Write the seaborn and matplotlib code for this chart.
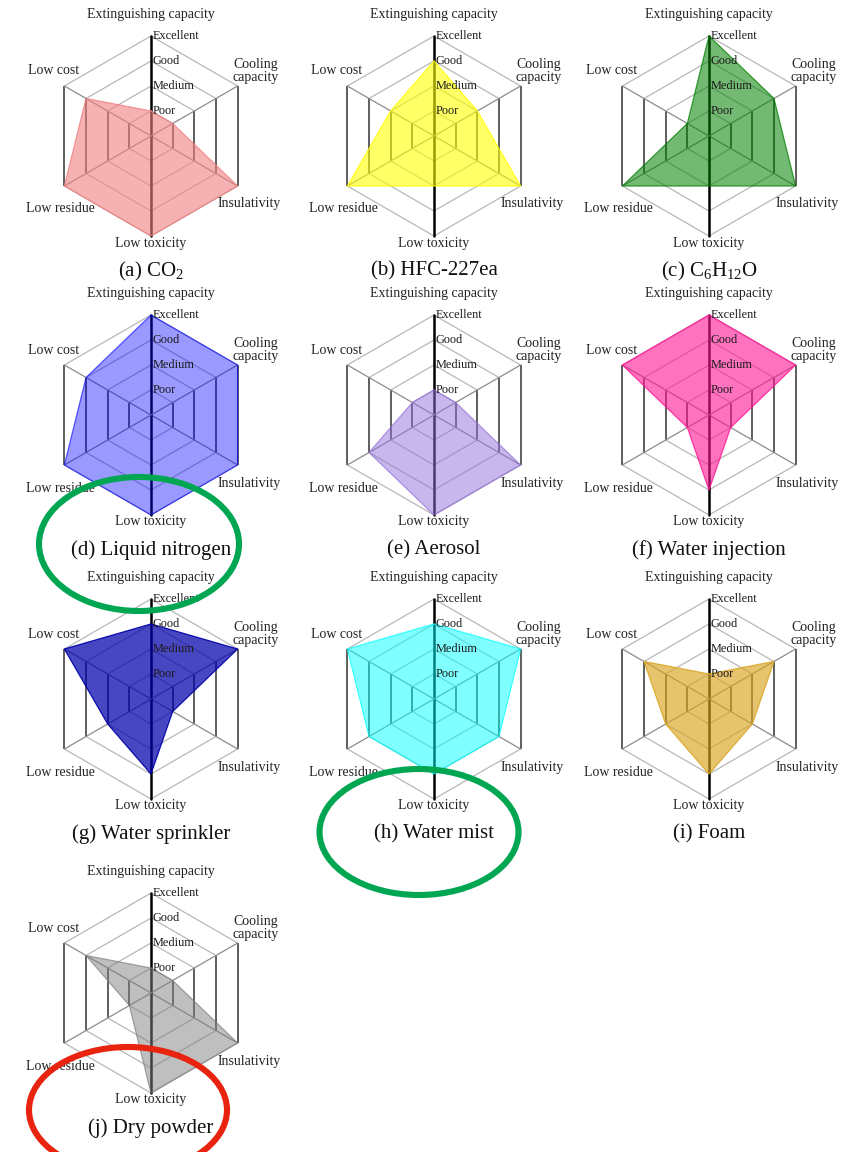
import numpy as np
import matplotlib
matplotlib.use("Agg")
import matplotlib.pyplot as plt
from matplotlib.patches import Ellipse
import seaborn as sns

# Criteria, clockwise from the top spoke
criteria = ["Extinguishing capacity", "Cooling\ncapacity", "Insulativity",
            "Low toxicity", "Low residue", "Low cost"]
levels = ["Poor", "Medium", "Good", "Excellent"]

agents = ["(a) CO$_2$", "(b) HFC-227ea", "(c) C$_6$H$_{12}$O",
          "(d) Liquid nitrogen", "(e) Aerosol", "(f) Water injection",
          "(g) Water sprinkler", "(h) Water mist", "(i) Foam",
          "(j) Dry powder"]

# Scores: 1 = Poor, 2 = Medium, 3 = Good, 4 = Excellent
co2 = [1, 1, 4, 4, 4, 3]
hfc227ea = [3, 2, 4, 2, 4, 2]
c6h12o = [4, 3, 4, 2, 4, 1]
liquid_nitrogen = [4, 4, 4, 4, 4, 3]
aerosol = [1, 1, 4, 4, 3, 1]
water_injection = [4, 4, 1, 3, 1, 4]
water_sprinkler = [3, 4, 1, 3, 2, 4]
water_mist = [3, 4, 3, 3, 3, 4]
foam = [1, 3, 2, 3, 2, 3]
dry_powder = [1, 1, 4, 4, 1, 3]

scores = [co2, hfc227ea, c6h12o, liquid_nitrogen, aerosol, water_injection,
          water_sprinkler, water_mist, foam, dry_powder]

fill_colors = ["lightcoral", "yellow", "green", "blue", "mediumpurple",
               "deeppink", "#0000AA", "cyan", "goldenrod", "gray"]
fill_alpha = [0.6, 0.6, 0.55, 0.4, 0.5, 0.6, 0.72, 0.5, 0.65, 0.5]

sns.set_theme(style="white")
plt.rcParams["font.family"] = ["Liberation Serif", "DejaVu Serif"]
plt.rcParams["mathtext.fontset"] = "custom"
plt.rcParams["mathtext.rm"] = "Liberation Serif"
plt.rcParams["mathtext.it"] = "Liberation Serif:italic"

W, H = 851, 1152
fig = plt.figure(figsize=(W / 100, H / 100), dpi=100)
fig.patch.set_facecolor("white")

col_x = [151, 434, 709]
row_y = [136, 415, 699, 993]
half = 150          # half-size of each panel in pixels
px_per_unit = 25    # outer ring (Excellent) sits 100 px from the centre

angles = np.deg2rad([90, 30, -30, -90, -150, 150])
ux, uy = np.cos(angles), np.sin(angles)

# label anchor points, in units of the outer radius
label_pos = [(0.0, 1.21), (1.05, 0.65), (0.98, -0.68),
             (0.0, -1.07), (-0.91, -0.73), (-0.97, 0.65)]


def draw_radar(ax, vals, color, alpha, title):
    # hexagonal rings
    for k in range(1, 5):
        for i in range(6):
            j = (i + 1) % 6
            vertical = i in (1, 4)
            ax.plot([k * ux[i], k * ux[j]], [k * uy[i], k * uy[j]],
                    color="#5e5e5e" if vertical else "#b8b8b8",
                    lw=1.4 if vertical else 0.9, zorder=1,
                    solid_capstyle="butt")
    # spokes
    for i in range(6):
        vertical = i in (0, 3)
        ax.plot([0, 4 * ux[i]], [0, 4 * uy[i]],
                color="black" if vertical else "#8c8c8c",
                lw=1.8 if vertical else 0.9, zorder=1)

    v = np.asarray(vals, dtype=float)
    xs = np.append(v * ux, v[0] * ux[0])
    ys = np.append(v * uy, v[0] * uy[0])
    ax.fill(xs, ys, color=color, alpha=alpha, lw=0, zorder=2)
    sns.lineplot(x=xs, y=ys, sort=False, estimator=None, color=color,
                 lw=0.9, alpha=min(1.0, alpha + 0.2), ax=ax, zorder=3)

    # level labels along the top spoke
    for k, name in enumerate(levels, start=1):
        ax.text(0.06, k, name, ha="left", va="center", fontsize=8.8,
                color="#1a1a1a", zorder=5)

    # criterion labels
    for (lx, ly), name in zip(label_pos, criteria):
        ax.text(4 * lx, 4 * ly, name, ha="center", va="center",
                fontsize=10, color="#222222", linespacing=1.05, zorder=5)

    ax.text(0, -4 * 1.35, title, ha="center", va="center", fontsize=15,
            color="#111111", zorder=5)

    lim = half / px_per_unit
    ax.set_xlim(-lim, lim)
    ax.set_ylim(-lim, lim)
    ax.axis("off")


for idx, (vals, title) in enumerate(zip(scores, agents)):
    cx = col_x[idx % 3]
    cy = row_y[idx // 3]
    ax = fig.add_axes([(cx - half) / W, 1 - (cy + half) / H,
                       2 * half / W, 2 * half / H])
    draw_radar(ax, vals, fill_colors[idx], fill_alpha[idx], title)

# highlight rings around selected captions
over = fig.add_axes([0, 0, 1, 1], zorder=10)
over.set_xlim(0, W)
over.set_ylim(H, 0)
over.axis("off")
over.patch.set_alpha(0)
rings = [((139, 544), 200, 134, "#00A651"),
         ((419, 832), 199, 126, "#00A651"),
         ((128, 1110), 198, 126, "#E8230F")]
for (ex, ey), ew, eh, ec in rings:
    over.add_patch(Ellipse((ex, ey), ew, eh, fill=False, edgecolor=ec,
                           lw=4.4))

fig.savefig("out.png", dpi=100, facecolor="white")
